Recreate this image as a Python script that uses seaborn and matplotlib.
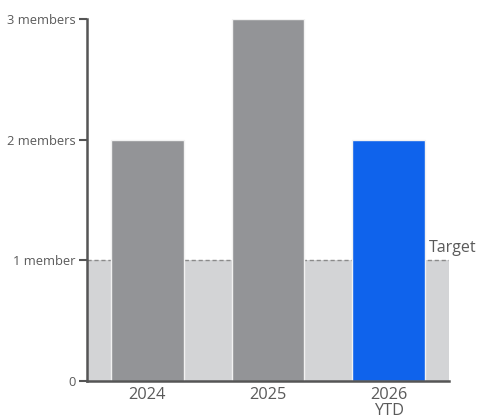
import matplotlib
matplotlib.use("Agg")
import matplotlib.pyplot as plt
import seaborn as sns
import pandas as pd

categories = ["2024", "2025", "2026\nYTD"]
values = [2, 3, 2]
bar_colors = ["#939497", "#939497", "#0F63EC"]
target = 1
ytick_values = [0, 1, 2, 3]
ytick_labels = ["0", "1 member", "2 members", "3 members"]

sns.set_style("white")
plt.rcParams["font.family"] = ["Open Sans", "DejaVu Sans"]

fig = plt.figure(figsize=(4.79, 4.18), dpi=100)
ax = fig.add_axes([87/479, 37/418, 362/479, 362/418])

df = pd.DataFrame({"cat": categories, "val": values})
ax.axhspan(0, target, color="#d3d4d6", zorder=0, lw=0)
ax.axhline(target, color="#8a8a8a", ls=(0, (3, 2)), lw=1, zorder=1)
sns.barplot(data=df, x="cat", y="val", hue="cat", palette=bar_colors, legend=False,
            width=0.6, edgecolor="#f2f2f2", linewidth=1, ax=ax, zorder=2, saturation=1)

ax.set_xlim(-0.5, 2.5)
ax.set_ylim(0, 3)
ax.set_xlabel("")
ax.set_ylabel("")
ax.set_yticks(ytick_values)
ax.set_yticklabels(ytick_labels, fontsize=9.3, color="#5a5a5a")
ax.set_xticks(range(len(categories)))
ax.set_xticklabels(categories, fontsize=11.8, color="#5a5a5a", linespacing=1.05)
ax.tick_params(axis="x", length=0, pad=4)
ax.set_xticks([0.5, 1.5, 2.5], minor=True)
ax.tick_params(axis="x", which="minor", direction="in", length=6, width=1.5, color="#555555")
ax.tick_params(axis="y", direction="out", length=6, width=1.5, color="#555555", pad=2, left=True)

for s in ["top", "right"]:
    ax.spines[s].set_visible(False)
for s in ["left", "bottom"]:
    ax.spines[s].set_color("#555555")
    ax.spines[s].set_linewidth(1.8)

ax.text(2.73, target + 0.04, "Target", fontsize=11.5, color="#5a5a5a",
        ha="right", va="bottom", clip_on=False)

fig.savefig("out.png", dpi=100)
